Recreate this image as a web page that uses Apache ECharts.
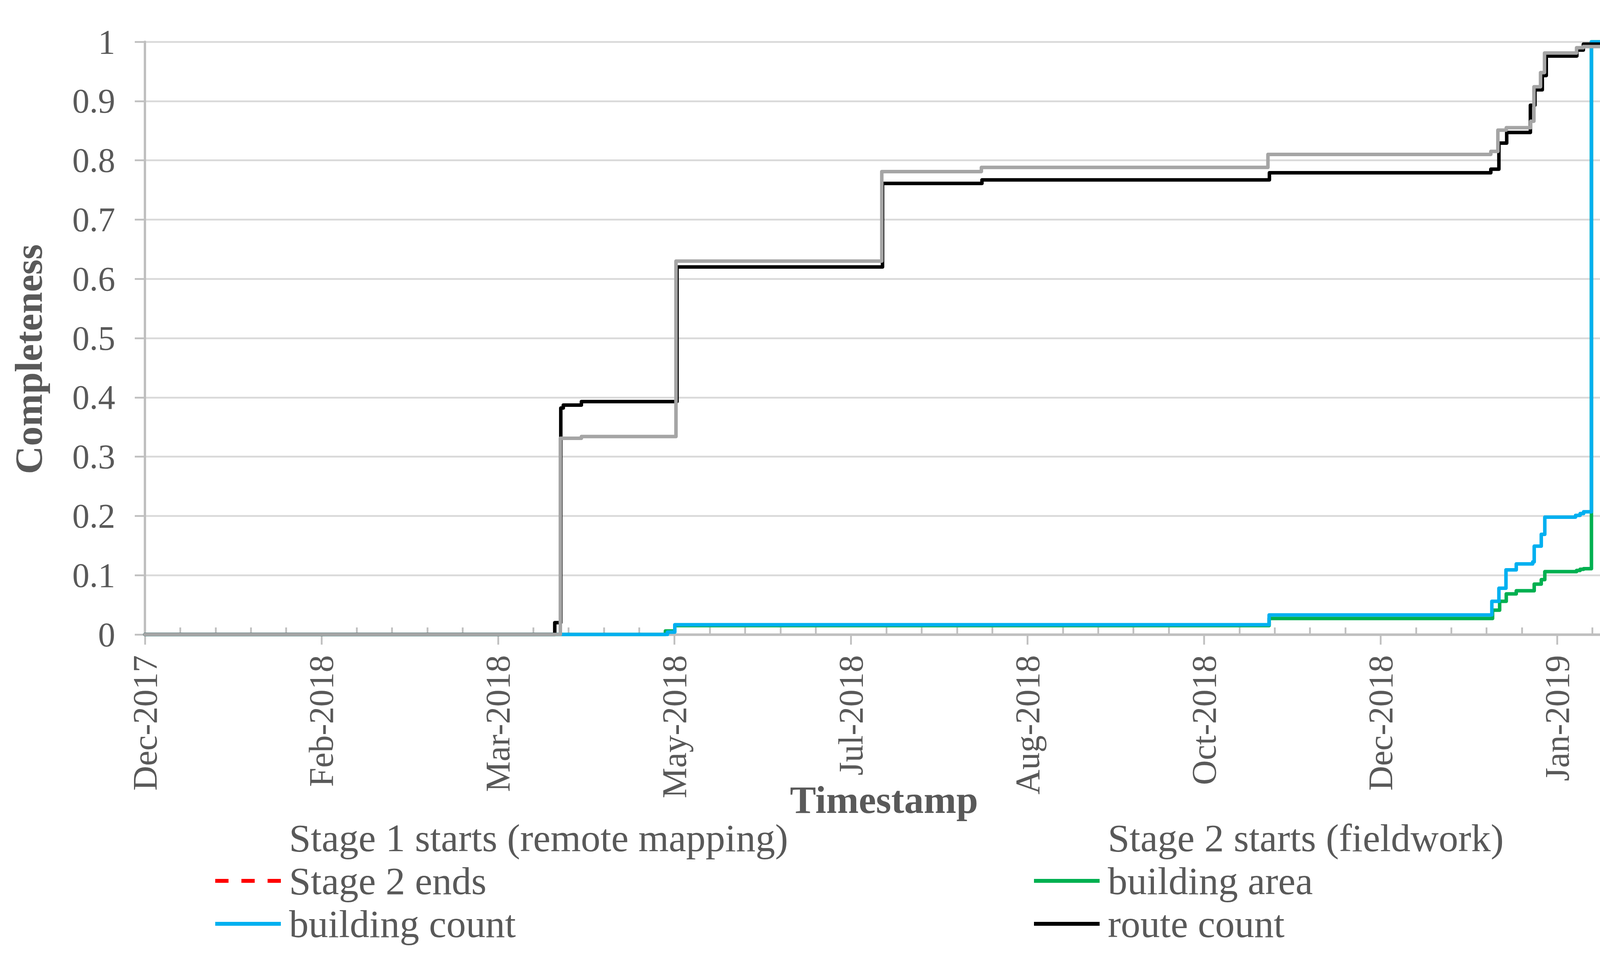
<!DOCTYPE html>
<html>
<head>
<meta charset="utf-8">
<script src="https://cdn.jsdelivr.net/npm/echarts@6/dist/echarts.min.js"></script>
<style>
html,body{margin:0;padding:0;background:#ffffff;overflow:hidden;}
#chart{width:4321px;height:2451px;}
</style>
</head>
<body>
<div id="chart"></div>
<script>
// ---------------- data ----------------
const axisStart = '2017-12-19 00:00';
const axisEnd = '2019-02-19 07:00';
const majorTickDays = 50;
const minorTickDays = 10;
const monthNames = ['Jan','Feb','Mar','Apr','May','Jun','Jul','Aug','Sep','Oct','Nov','Dec'];
const yTickStep = 0.1;

const buildingAreaTimes = ['2017-12-19 00:00','2018-05-15 10:00','2018-05-18 02:00','2018-11-02 10:00','2019-01-04 17:00','2019-01-06 17:00','2019-01-08 14:00','2019-01-11 10:00','2019-01-16 12:00','2019-01-18 12:00','2019-01-19 12:00','2019-01-28 12:00','2019-01-29 12:00','2019-01-30 12:00','2019-02-01 17:00','2019-02-19 07:00'];
const buildingAreaValues = [0,0.006,0.015,0.027,0.041,0.056,0.0685,0.0737,0.085,0.0925,0.106,0.108,0.110,0.111,1.0,1.0];

const buildingCountTimes = ['2017-12-19 00:00','2018-05-16 00:00','2018-05-18 02:00','2018-11-02 10:00','2019-01-04 12:00','2019-01-06 12:00','2019-01-08 12:00','2019-01-11 10:00','2019-01-16 02:00','2019-01-16 12:00','2019-01-18 12:00','2019-01-19 12:00','2019-01-28 05:00','2019-01-29 12:00','2019-01-30 12:00','2019-02-01 17:00','2019-02-19 07:00'];
const buildingCountValues = [0,0.004,0.0165,0.033,0.056,0.078,0.109,0.119,0.1225,0.149,0.169,0.198,0.201,0.204,0.207,1.0,1.0];

const routeCountTimes = ['2017-12-19 00:00','2018-04-14 02:00','2018-04-15 19:00','2018-04-16 12:00','2018-04-21 15:00','2018-05-18 17:00','2018-07-15 22:00','2018-08-13 02:00','2018-11-02 12:00','2019-01-04 05:00','2019-01-06 12:00','2019-01-08 17:00','2019-01-15 10:00','2019-01-16 17:00','2019-01-18 19:00','2019-01-19 22:00','2019-01-28 14:00','2019-01-30 10:00','2019-02-11 12:00','2019-02-19 07:00'];
const routeCountValues = [0,0.02,0.382,0.387,0.393,0.620,0.761,0.767,0.779,0.785,0.829,0.847,0.893,0.919,0.943,0.976,0.986,0.996,1.0,1.0];

const greySeriesTimes = ['2017-12-19 00:00','2018-04-15 16:00','2018-04-21 15:00','2018-05-18 10:00','2018-07-15 17:00','2018-08-12 22:00','2018-11-02 02:00','2019-01-04 05:00','2019-01-06 05:00','2019-01-08 14:00','2019-01-15 12:00','2019-01-16 10:00','2019-01-18 07:00','2019-01-19 10:00','2019-01-28 12:00','2019-01-30 10:00','2019-02-11 19:00','2019-02-19 07:00'];
const greySeriesValues = [0,0.331,0.334,0.630,0.781,0.788,0.810,0.815,0.851,0.855,0.866,0.924,0.948,0.981,0.990,0.992,1.0,1.0];

const legendLeftNames = ['Stage 1 starts (remote mapping)','Stage 2 ends','building count'];
const legendRightNames = ['Stage 2 starts (fieldwork)','building area','route count'];

// ---------------- helpers ----------------
function parseUTC(s){
  const [d,t] = s.split(' ');
  const [Y,M,D] = d.split('-').map(Number);
  const [h,m] = (t||'00:00').split(':').map(Number);
  return Date.UTC(Y,M-1,D,h,m);
}
const t0 = parseUTC(axisStart);
function toDays(s){ return (parseUTC(s) - t0) / 86400000; }
function pairs(times, values){ return times.map((t,i)=>[toDays(t), values[i]]); }
const xMax = toDays(axisEnd);

const majorTicks = [];
const minorTicks = [];
for (let v = 0; v <= xMax; v += minorTickDays) {
  if (Math.round(v) % majorTickDays === 0) majorTicks.push(v); else minorTicks.push(v);
}

const FONT = "'Liberation Serif', 'Times New Roman', serif";
const TXT = '#595959';
const AXIS_C = '#BFBFBF';
const LW = 9;

function lineSeries(name, color, times, values, extra){
  return Object.assign({
    name: name,
    type: 'line',
    step: 'end',
    symbol: 'none',
    showSymbol: false,
    data: times ? pairs(times, values) : [],
    color: color,
    itemStyle: {color: color},
    lineStyle: {color: color, width: LW, cap: 'round', join: 'round'},
    emphasis: {disabled: true},
    animation: false,
    silent: true
  }, extra || {});
}

const solidIcon = 'rect';
const dashIcon = 'path://M0,0H34V10H0Z M67,0H101V10H67Z M134,0H168V10H134Z';

function legendBox(left, names){
  return {
    orient: 'vertical',
    left: left,
    top: 2096,
    padding: 0,
    itemWidth: 168,
    itemHeight: 10,
    itemGap: 10,
    selectedMode: false,
    icon: solidIcon,
    textStyle: {fontFamily: FONT, fontSize: 100, color: TXT, lineHeight: 100, padding: [0,0,0,16]},
    data: names.map(n => n === 'Stage 2 ends' ? {name: n, icon: dashIcon} : {name: n})
  };
}

const chart = echarts.init(document.getElementById('chart'), null, {renderer: 'svg', width: 4321, height: 2451});

function dateLabel(v){
  const d = new Date(t0 + v * 86400000);
  return monthNames[d.getUTCMonth()] + '-' + d.getUTCFullYear();
}

const option = {
  backgroundColor: '#ffffff',
  animation: false,
  grid: {left: 371, right: 88, top: 107, bottom: 826, containLabel: false, outerBoundsMode: 'none'},
  xAxis: [{
    type: 'value',
    min: 0,
    max: xMax,
    interval: majorTickDays,
    axisLine: {show: true, onZero: false, lineStyle: {color: AXIS_C, width: 6.5}},
    axisTick: {show: true, inside: false, length: 26, customValues: majorTicks, lineStyle: {color: AXIS_C, width: 4.5}},
    splitLine: {show: false},
    axisLabel: {
      show: true, rotate: 90, margin: 53, fontFamily: FONT, fontSize: 88, color: TXT,
      customValues: majorTicks,
      formatter: dateLabel
    }
  },{
    type: 'value',
    min: 0,
    max: xMax,
    interval: majorTickDays,
    position: 'bottom',
    axisLine: {show: false},
    axisLabel: {show: false},
    splitLine: {show: false},
    axisTick: {show: true, inside: true, length: 18, customValues: minorTicks, lineStyle: {color: AXIS_C, width: 4.5}}
  }],
  yAxis: {
    type: 'value',
    min: 0,
    max: 1,
    interval: yTickStep,
    axisLine: {show: true, lineStyle: {color: AXIS_C, width: 6}},
    axisTick: {show: true, inside: false, length: 26, lineStyle: {color: AXIS_C, width: 4.5}},
    splitLine: {show: true, lineStyle: {color: '#D9D9D9', width: 4.5}},
    axisLabel: {
      margin: 76, fontFamily: FONT, fontSize: 88, color: TXT,
      formatter: v => String(Math.round(v * 10) / 10)
    }
  },
  legend: [legendBox(551, legendLeftNames), legendBox(2647, legendRightNames)],
  graphic: [
    {type: 'text', x: 73, y: 920, rotation: Math.PI / 2, silent: true,
     style: {text: 'Completeness', fontFamily: FONT, fontSize: 100, fontWeight: 'bold', fill: TXT, align: 'center', verticalAlign: 'middle'}},
    {type: 'text', x: 2263, y: 2048, silent: true,
     style: {text: 'Timestamp', fontFamily: FONT, fontSize: 100, fontWeight: 'bold', fill: TXT, align: 'center', verticalAlign: 'middle'}}
  ],
  series: [
    lineSeries('Stage 1 starts (remote mapping)', 'rgba(0,0,0,0)', null, null),
    lineSeries('Stage 2 starts (fieldwork)', 'rgba(0,0,0,0)', null, null),
    lineSeries('Stage 2 ends', '#FF0000', null, null, {lineStyle: {color: '#FF0000', width: LW, type: [34, 33]}}),
    lineSeries('building area', '#00B050', buildingAreaTimes, buildingAreaValues),
    lineSeries('building count', '#00B0F0', buildingCountTimes, buildingCountValues),
    lineSeries('route count', '#000000', routeCountTimes, routeCountValues),
    lineSeries('unlabelled series', '#A5A5A5', greySeriesTimes, greySeriesValues)
  ]
};
chart.setOption(option);
</script>
</body>
</html>
